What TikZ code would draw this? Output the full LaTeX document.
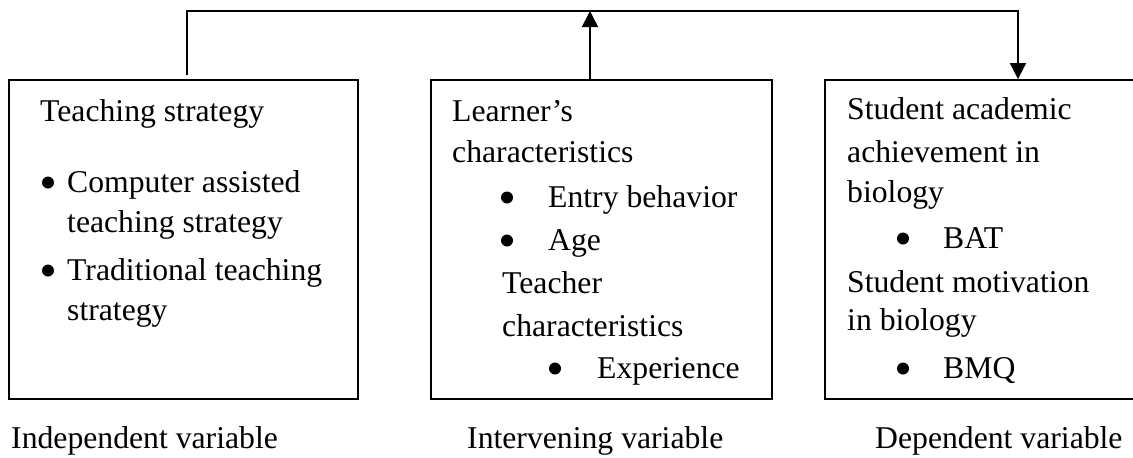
\documentclass[tikz,border=0pt]{standalone}
\usepackage{fontspec}
\setmainfont{Liberation Serif}
\usetikzlibrary{arrows.meta,calc}
\begin{document}
\begin{tikzpicture}[x=1pt,y=-1pt,
  box/.style={draw,line width=1.8pt,rectangle,inner sep=0pt},
  txt/.style={anchor=base west,inner sep=0pt,font=\fontsize{31.7}{38}\selectfont},
  bul/.style={circle,fill,draw=none,inner sep=0pt,minimum size=12pt,yshift=9.5pt},
  conn/.style={line width=1.8pt},
  arr/.style={conn,-{Triangle[length=16pt,width=16pt]}}]
\useasboundingbox (0,0) rectangle (1133,458);
% boxes
\node[box,minimum width=349pt,minimum height=319pt] (L) at (183.5,239.5) {};
\node[box,minimum width=341pt,minimum height=319pt] (M) at (601.5,239.5) {};
\node[box,minimum width=310pt,minimum height=319pt] (R) at (980,239.5) {};
% connector coordinates
\coordinate (lt) at (187,11);
\coordinate (mt) at (590,11);
\coordinate (rt) at (1018,11);
\draw[arr,shorten <=4pt] (L.north -| lt) |- (rt) -- (R.north -| rt);
\draw[arr] (M.north -| mt) -- (mt);
% left box text
\node[txt] (l1) at (40,121) {Teaching strategy};
\node[bul] (lb1) at (48,192) {};
\node[txt] (l2) at (67,192) {Computer assisted};
\node[txt] (l3) at (67,232) {teaching strategy};
\node[bul] (lb2) at (48,280) {};
\node[txt] (l4) at (67,280) {Traditional teaching};
\node[txt] (l5) at (67,320) {strategy};
% middle box text
\node[txt] (m1) at (452,121) {Learner’s};
\node[txt] (m2) at (452,162) {characteristics};
\node[bul] (mb1) at (507,207) {};
\node[txt] (m3) at (548,207) {Entry behavior};
\node[bul] (mb2) at (507,250) {};
\node[txt] (m4) at (548,250) {Age};
\node[txt] (m5) at (502,293) {Teacher};
\node[txt] (m6) at (502,336) {characteristics};
\node[bul] (mb3) at (555,378) {};
\node[txt] (m7) at (597,378) {Experience};
% right box text
\node[txt] (r1) at (847,119) {Student academic};
\node[txt] (r2) at (847,162) {achievement in};
\node[txt] (r3) at (847,202) {biology};
\node[bul] (rb1) at (903,248) {};
\node[txt] (r4) at (943,248) {BAT};
\node[txt] (r5) at (847,292) {Student motivation};
\node[txt] (r6) at (847,330) {in biology};
\node[bul] (rb2) at (903,378) {};
\node[txt] (r7) at (943,378) {BMQ};
% captions
\node[txt] (c1) at (11,448) {Independent variable};
\node[txt] (c2) at (467,448) {Intervening variable};
\node[txt] (c3) at (875,448) {Dependent variable};
\end{tikzpicture}
\end{document}
